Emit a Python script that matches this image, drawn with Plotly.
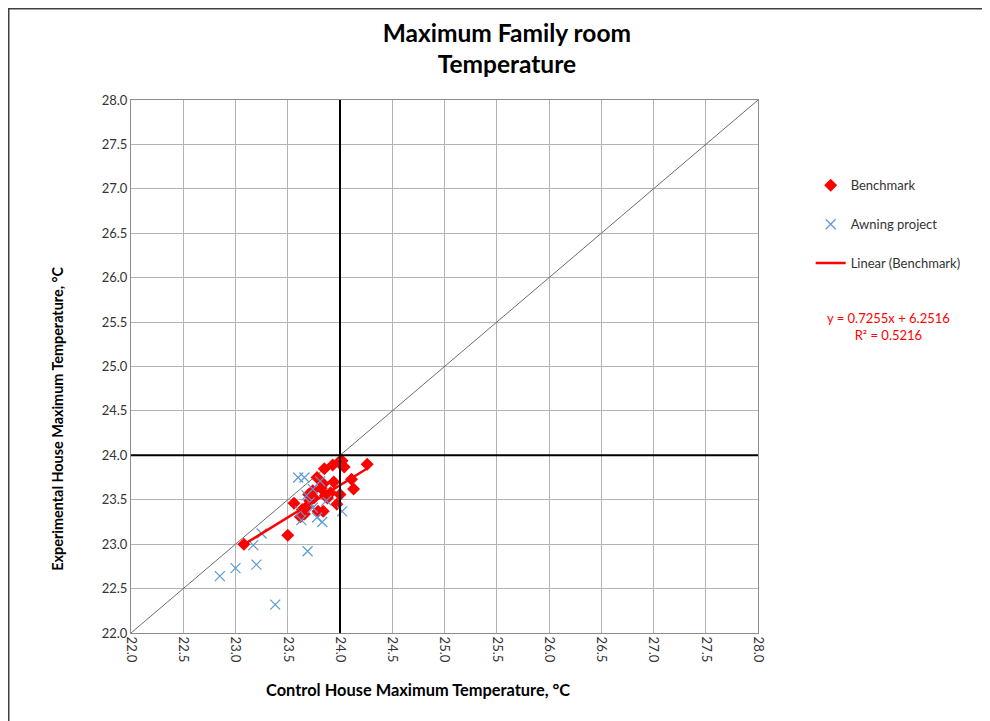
import plotly.graph_objects as go

# Benchmark (control x, experimental y)
bench_x = [23.08, 23.50, 23.56, 23.62, 23.64, 23.70, 23.71, 23.74, 23.78, 23.79,
           23.82, 23.84, 23.84, 23.85, 23.86, 23.88, 23.91, 23.93, 23.94, 23.97,
           23.99, 24.00, 24.02, 24.04, 24.11, 24.13, 24.26, 23.66, 23.68, 23.75]
bench_y = [23.00, 23.10, 23.46, 23.31, 23.39, 23.56, 23.49, 23.60, 23.75, 23.37,
           23.63, 23.68, 23.37, 23.85, 23.55, 23.52, 23.58, 23.89, 23.70, 23.45,
           23.92, 23.56, 23.94, 23.87, 23.73, 23.62, 23.90, 23.34, 23.42, 23.52]

# Awning project
awn_x = [22.85, 23.00, 23.20, 23.17, 23.25, 23.38, 23.69, 23.60, 23.66, 23.63,
         23.83, 23.74, 24.02, 23.81, 23.74, 23.87, 23.62, 23.71, 23.68, 23.78]
awn_y = [22.64, 22.73, 22.77, 22.99, 23.12, 22.32, 22.92, 23.75, 23.75, 23.27,
         23.25, 23.41, 23.37, 23.71, 23.62, 23.49, 23.37, 23.47, 23.55, 23.30]

slope, intercept, r2 = 0.7255, 6.2516, 0.5216
ref_value = 24.0
axis_min, axis_max = 22.0, 28.0
tick_vals = [22.0 + 0.5 * i for i in range(13)]
tick_text = [f"{v:.1f}" for v in tick_vals]

FONT = "Lato"

fig = go.Figure()

# y = x diagonal
fig.add_trace(go.Scatter(x=[axis_min, axis_max], y=[axis_min, axis_max], mode="lines",
                         line=dict(color="#6d6d6d", width=1), showlegend=False,
                         hoverinfo="skip"))

fig.add_trace(go.Scatter(x=bench_x, y=bench_y, mode="markers", name="Benchmark",
                         marker=dict(symbol="diamond", color="#ff0000", size=10),
                         legendgroup="a"))
fig.add_trace(go.Scatter(x=awn_x, y=awn_y, mode="markers", name="Awning project",
                         marker=dict(symbol="x-thin-open", size=10, color="#5b9bd5",
                                     line=dict(color="#5b9bd5", width=1.2)),
                         legendgroup="b"))
tx = [min(bench_x), max(bench_x)]
ty = [slope * v + intercept for v in tx]
fig.add_trace(go.Scatter(x=tx, y=ty, mode="lines", name="Linear (Benchmark)",
                         line=dict(color="#ff0000", width=2.5), legendgroup="c"))

fig.add_vline(x=ref_value, line=dict(color="black", width=2))
fig.add_hline(y=ref_value, line=dict(color="black", width=2))

fig.add_annotation(xref="paper", yref="paper", x=1.31, y=0.575,
                   text=f"y = {slope}x + {intercept}<br>R² = {r2}",
                   showarrow=False, font=dict(color="#ff0000", size=13, family=FONT),
                   align="center")

# axis titles (placed as in the original, offset from centre)
fig.add_annotation(xref="paper", yref="paper", x=0.458, y=-0.128,
                   text="<b>Control House Maximum Temperature, °C</b>",
                   showarrow=False, font=dict(size=16.4, family=FONT, color="black"))
fig.add_annotation(xref="paper", yref="paper", x=-0.134, y=0.403, textangle=-90,
                   text="<b>Experimental House Maximum Temperature, °C</b>",
                   showarrow=False, font=dict(size=14.4, family=FONT, color="black"))

# outer chart frame
fig.add_shape(type="rect", xref="paper", yref="paper", x0=-0.195, x1=1.36,
              y0=-0.25, y1=1.171, line=dict(color="#404040", width=1.5))

axis_common = dict(range=[axis_min, axis_max], tickvals=tick_vals, ticktext=tick_text,
                   showgrid=True, gridcolor="#b3b3b3", gridwidth=1,
                   showline=True, linecolor="#8c8c8c", linewidth=1, mirror=True,
                   zeroline=False, ticks="", automargin=False,
                   tickfont=dict(size=13, family=FONT, color="#333"))

fig.update_xaxes(**axis_common, tickangle=90)
fig.update_yaxes(**axis_common)

fig.update_layout(
    width=982, height=713,
    margin=dict(l=123, r=232, t=92, b=88),
    paper_bgcolor="white", plot_bgcolor="white",
    title=dict(text="<b>Maximum Family room<br>Temperature</b>", x=0.508, xanchor="center",
               y=0.953, yanchor="top", font=dict(size=24.5, family=FONT, color="black")),
    legend=dict(x=1.084, y=0.868, xanchor="left", yanchor="top",
                font=dict(size=13, family=FONT, color="#333"), tracegroupgap=19,
                bgcolor="rgba(0,0,0,0)"),
    showlegend=True,
)

fig.write_html("out.html")
